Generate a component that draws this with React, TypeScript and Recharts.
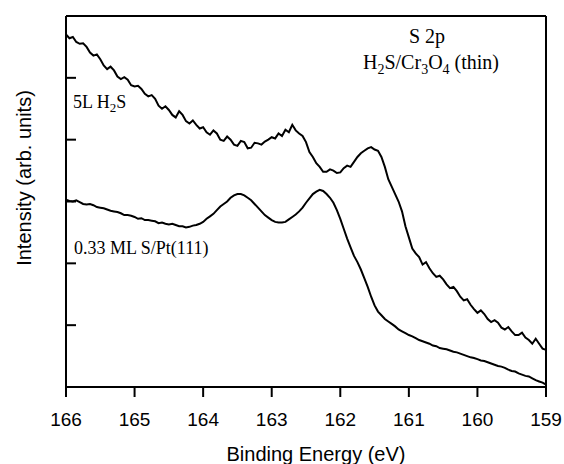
import { LineChart, Line, XAxis, YAxis } from 'recharts'

// binding energy (eV), 0.05 eV steps from 166 down to 159
const energies = [
  166.0, 165.95, 165.9, 165.85, 165.8, 165.75, 165.7, 165.65, 165.6, 165.55,
  165.5, 165.45, 165.4, 165.35, 165.3, 165.25, 165.2, 165.15, 165.1, 165.05,
  165.0, 164.95, 164.9, 164.85, 164.8, 164.75, 164.7, 164.65, 164.6, 164.55,
  164.5, 164.45, 164.4, 164.35, 164.3, 164.25, 164.2, 164.15, 164.1, 164.05,
  164.0, 163.95, 163.9, 163.85, 163.8, 163.75, 163.7, 163.65, 163.6, 163.55,
  163.5, 163.45, 163.4, 163.35, 163.3, 163.25, 163.2, 163.15, 163.1, 163.05,
  163.0, 162.95, 162.9, 162.85, 162.8, 162.75, 162.7, 162.65, 162.6, 162.55,
  162.5, 162.45, 162.4, 162.35, 162.3, 162.25, 162.2, 162.15, 162.1, 162.05,
  162.0, 161.95, 161.9, 161.85, 161.8, 161.75, 161.7, 161.65, 161.6, 161.55,
  161.5, 161.45, 161.4, 161.35, 161.3, 161.25, 161.2, 161.15, 161.1, 161.05,
  161.0, 160.95, 160.9, 160.85, 160.8, 160.75, 160.7, 160.65, 160.6, 160.55,
  160.5, 160.45, 160.4, 160.35, 160.3, 160.25, 160.2, 160.15, 160.1, 160.05,
  160.0, 159.95, 159.9, 159.85, 159.8, 159.75, 159.7, 159.65, 159.6, 159.55,
  159.5, 159.45, 159.4, 159.35, 159.3, 159.25, 159.2, 159.15, 159.1, 159.05,
  159.0,
]

// 5L H2S on Cr3O4
const spec5L = [
  5.70, 5.64, 5.66, 5.58, 5.55, 5.56, 5.50, 5.41, 5.36, 5.38,
  5.30, 5.20, 5.14, 5.18, 5.12, 5.02, 4.98, 5.01, 4.97, 4.88,
  4.86, 4.87, 4.82, 4.74, 4.70, 4.72, 4.66, 4.55, 4.50, 4.54,
  4.48, 4.40, 4.36, 4.46, 4.40, 4.30, 4.26, 4.31, 4.24, 4.18,
  4.20, 4.12, 4.08, 4.15, 4.10, 4.00, 3.98, 4.05, 4.00, 3.92,
  3.90, 3.98, 3.96, 3.86, 3.87, 3.95, 3.94, 3.92, 3.97, 4.00,
  4.04, 4.02, 4.10, 4.06, 4.16, 4.12, 4.24, 4.15, 4.10, 4.06,
  3.96, 3.80, 3.72, 3.62, 3.56, 3.48, 3.48, 3.52, 3.50, 3.46,
  3.47, 3.54, 3.58, 3.56, 3.64, 3.72, 3.78, 3.82, 3.86, 3.88,
  3.84, 3.82, 3.72, 3.56, 3.36, 3.24, 3.12, 3.00, 2.84, 2.60,
  2.42, 2.24, 2.16, 2.10, 1.98, 2.02, 1.92, 1.84, 1.78, 1.80,
  1.74, 1.66, 1.60, 1.62, 1.55, 1.46, 1.40, 1.42, 1.33, 1.26,
  1.20, 1.24, 1.18, 1.10, 1.05, 1.08, 1.04, 0.96, 0.93, 0.97,
  0.90, 0.84, 0.84, 0.88, 0.80, 0.76, 0.70, 0.78, 0.70, 0.62,
  0.60,
]

// 0.33 ML S/Pt(111) reference
const specPt = [
  3.03, 3.01, 3.00, 3.02, 2.99, 2.96, 2.95, 2.96, 2.94, 2.91,
  2.90, 2.89, 2.87, 2.85, 2.84, 2.83, 2.81, 2.78, 2.78, 2.77,
  2.75, 2.72, 2.73, 2.70, 2.70, 2.69, 2.68, 2.65, 2.66, 2.64,
  2.63, 2.64, 2.62, 2.60, 2.60, 2.58, 2.59, 2.61, 2.62, 2.64,
  2.67, 2.72, 2.76, 2.80, 2.86, 2.92, 2.96, 3.00, 3.06, 3.10,
  3.12, 3.12, 3.10, 3.06, 3.02, 2.96, 2.90, 2.84, 2.78, 2.74,
  2.70, 2.67, 2.66, 2.66, 2.67, 2.71, 2.75, 2.79, 2.84, 2.90,
  2.98, 3.05, 3.12, 3.16, 3.19, 3.17, 3.12, 3.06, 2.98, 2.86,
  2.72, 2.56, 2.40, 2.26, 2.12, 2.02, 1.90, 1.76, 1.62, 1.46,
  1.32, 1.22, 1.16, 1.10, 1.06, 1.02, 0.98, 0.93, 0.90, 0.87,
  0.84, 0.82, 0.79, 0.76, 0.74, 0.72, 0.70, 0.67, 0.66, 0.63,
  0.62, 0.61, 0.59, 0.57, 0.56, 0.54, 0.52, 0.50, 0.48, 0.47,
  0.45, 0.43, 0.42, 0.40, 0.38, 0.36, 0.34, 0.33, 0.31, 0.28,
  0.26, 0.25, 0.22, 0.20, 0.18, 0.17, 0.14, 0.11, 0.09, 0.07,
  0.04,
]

const xTicks = [166, 165, 164, 163, 162, 161, 160, 159]
const yTicks = [0, 1, 2, 3, 4, 5, 6]

const data = energies.map((be, i) => ({ be, h2s: spec5L[i], pt: specPt[i] }))

const serif = '"Liberation Serif", "Times New Roman", serif'
const sans = '"Liberation Sans", Arial, sans-serif'

const note = {
  position: 'absolute' as const,
  fontFamily: serif,
  fontSize: 18,
  lineHeight: '18px',
  color: '#000',
  whiteSpace: 'nowrap' as const,
}
const title = { ...note, fontSize: 20, lineHeight: '20px', transform: 'translateX(-50%)' }
const sub = { fontSize: 13, lineHeight: 0, verticalAlign: -4 }
const subBig = { fontSize: 14, lineHeight: 0, verticalAlign: -5 }

export default function App() {
  return (
    <div style={{ position: 'absolute', left: 0, top: 0, width: 564, height: 464, background: '#fff' }}>
      <LineChart width={564} height={464} data={data} margin={{ top: 15, right: 17, bottom: 0, left: 66 }}>
        <XAxis
          dataKey="be"
          type="number"
          domain={[159, 166]}
          reversed
          ticks={xTicks}
          height={77}
          stroke="#000"
          strokeWidth={2}
          tickSize={10}
          tickMargin={16}
          tick={{ fill: '#000', fontSize: 19, fontFamily: sans }}
        />
        <XAxis
          xAxisId="top"
          orientation="top"
          dataKey="be"
          type="number"
          domain={[159, 166]}
          reversed
          height={1}
          tick={false}
          tickLine={false}
          stroke="#000"
          strokeWidth={2}
        />
        <YAxis
          type="number"
          domain={[0, 6]}
          ticks={yTicks}
          width={1}
          mirror
          tickSize={10}
          tick={() => <g />}
          stroke="#000"
          strokeWidth={2}
        />
        <YAxis
          yAxisId="right"
          orientation="right"
          type="number"
          domain={[0, 6]}
          width={1}
          tick={false}
          tickLine={false}
          stroke="#000"
          strokeWidth={2}
        />
        <Line type="linear" dataKey="h2s" stroke="#000" strokeWidth={2} dot={false} isAnimationActive={false} />
        <Line type="linear" dataKey="pt" stroke="#000" strokeWidth={2} dot={false} isAnimationActive={false} />
      </LineChart>

      <div style={{ ...title, left: 427, top: 26 }}>S 2p</div>
      <div style={{ ...title, left: 431, top: 52 }}>
        H<sub style={subBig}>2</sub>S/Cr<sub style={subBig}>3</sub>O<sub style={subBig}>4</sub> (thin)
      </div>
      <div style={{ ...note, left: 73, top: 93 }}>
        5L H<sub style={sub}>2</sub>S
      </div>
      <div style={{ ...note, left: 74, top: 239 }}>0.33 ML S/Pt(111)</div>

      <div
        style={{
          position: 'absolute',
          left: 316,
          top: 444,
          transform: 'translateX(-50%)',
          fontFamily: sans,
          fontSize: 20,
          lineHeight: '20px',
          whiteSpace: 'nowrap',
        }}
      >
        Binding Energy (eV)
      </div>
      <div
        style={{
          position: 'absolute',
          left: 24,
          top: 178,
          transform: 'translate(-50%, -50%) rotate(-90deg)',
          fontFamily: sans,
          fontSize: 20,
          lineHeight: '20px',
          whiteSpace: 'nowrap',
        }}
      >
        Intensity (arb. units)
      </div>
    </div>
  )
}
